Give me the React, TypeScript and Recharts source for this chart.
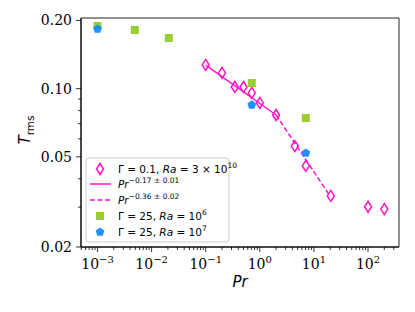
import React from "react";
import {
  ScatterChart,
  Scatter,
  XAxis,
  YAxis,
  ReferenceArea,
} from "recharts";

// Γ = 0.1, Ra = 3e10 (open diamonds)
const prLow = [0.1, 0.2, 0.345, 0.5, 0.71, 1, 2, 4.44, 7.08, 20.5, 100, 200];
const tLow = [0.1272, 0.1173, 0.1017, 0.1017, 0.0957, 0.0865, 0.0765, 0.0558, 0.0456, 0.0336, 0.0301, 0.0294];

// Γ = 25, Ra = 1e6 (squares)
const prSq = [0.001, 0.0049, 0.0208, 0.71, 7.08];
const tSq = [0.189, 0.1815, 0.1674, 0.1059, 0.0742];

// Γ = 25, Ra = 1e7 (pentagons)
const prPent = [0.001, 0.71, 7.08];
const tPent = [0.1834, 0.0847, 0.052];

// fit lines, end points
const fitSolidPr = [0.1, 2];
const fitSolidT = [0.127, 0.0765];
const fitDashPr = [2, 20];
const fitDashT = [0.0765, 0.0335];

const xMajor = [1e-3, 1e-2, 1e-1, 1, 10, 100];
const xMajorExp = ["−3", "−2", "−1", "0", "1", "2"];
const yMajor = [0.02, 0.05, 0.1, 0.2];
const yMajorLabels = ["0.02", "0.05", "0.10", "0.20"];
const yMinor = [0.03, 0.04, 0.06, 0.07, 0.08, 0.09];

const X_DOMAIN: [number, number] = [4.95e-4, 374];
const Y_DOMAIN: [number, number] = [0.02, 0.205];

const MAGENTA = "#ff14c8";
const GREEN = "#9acd32";
const BLUE = "#1e90ff";

const zip = (xs: number[], ys: number[]) => xs.map((x, i) => ({ x, y: ys[i] }));

const xMinor: number[] = [];
for (let e = -4; e <= 2; e++) {
  for (let k = 2; k <= 9; k++) {
    const v = k * Math.pow(10, e);
    if (v >= X_DOMAIN[0] && v <= X_DOMAIN[1]) xMinor.push(v);
  }
}
const xTicks = [...xMajor, ...xMinor].sort((a, b) => a - b);
const yTicks = [...yMajor, ...yMinor].sort((a, b) => a - b);

const near = (a: number, b: number) => Math.abs(a - b) / b < 1e-6;

const XTick = (props: any) => {
  const { x, y, payload } = props;
  const i = xMajor.findIndex((m) => near(payload.value, m));
  const major = i >= 0;
  return (
    <g>
      <line x1={x} x2={x} y1={y} y2={y + (major ? 5 : 3)} stroke="#000" strokeWidth={0.8} />
      {major && (
        <text x={x} y={y + 22} textAnchor="middle" fontFamily="DejaVu Serif" fontSize={14} fill="#000">
          10
          <tspan dy={-6} fontSize={10}>
            {xMajorExp[i]}
          </tspan>
        </text>
      )}
    </g>
  );
};

const YTick = (props: any) => {
  const { x, y, payload } = props;
  const i = yMajor.findIndex((m) => near(payload.value, m));
  const major = i >= 0;
  return (
    <g>
      <line x1={x - (major ? 5 : 3)} x2={x} y1={y} y2={y} stroke="#000" strokeWidth={0.8} />
      {major && (
        <text x={x - 9} y={y + 5} textAnchor="end" fontFamily="DejaVu Serif" fontSize={14} fill="#000">
          {yMajorLabels[i]}
        </text>
      )}
    </g>
  );
};

const Diamond = (props: any) => {
  const { cx, cy } = props;
  return (
    <path
      d={`M${cx},${cy - 5.5} L${cx + 3.5},${cy} L${cx},${cy + 5.5} L${cx - 3.5},${cy} Z`}
      fill="none"
      stroke={MAGENTA}
      strokeWidth={1.5}
    />
  );
};

const Square = (props: any) => {
  const { cx, cy } = props;
  return <rect x={cx - 4} y={cy - 4} width={8} height={8} fill={GREEN} />;
};

const pentagonPath = (cx: number, cy: number, r: number) => {
  const pts = [];
  for (let k = 0; k < 5; k++) {
    const a = -Math.PI / 2 + (k * 2 * Math.PI) / 5;
    pts.push(`${cx + r * Math.cos(a)},${cy + r * Math.sin(a)}`);
  }
  return "M" + pts.join(" L") + " Z";
};

const Pentagon = (props: any) => {
  const { cx, cy } = props;
  return <path d={pentagonPath(cx, cy, 4.6)} fill={BLUE} />;
};

const NoDot = () => <g />;

const Legend = () => {
  const tx = 110;
  const fs = 10.5;
  const font = "DejaVu Sans";
  return (
    <g fontFamily={font} fontSize={fs} fill="#000">
      <rect x={78} y={150} width={143} height={84} rx={3} fill="#fff" fillOpacity={0.8} stroke="#ccc" strokeWidth={1} />
      <Diamond cx={92} cy={161} />
      <text x={tx} y={165}>
        Γ = 0.1, <tspan fontStyle="italic">Ra</tspan> = 3 × 10
        <tspan dy={-5} fontSize={7.5}>10</tspan>
      </text>
      <line x1={82} x2={103} y1={176} y2={176} stroke={MAGENTA} strokeWidth={1.5} />
      <text x={tx} y={180}>
        <tspan fontStyle="italic">Pr</tspan>
        <tspan dy={-5} fontSize={7.5}>−0.17 ± 0.01</tspan>
      </text>
      <line x1={82} x2={103} y1={192} y2={192} stroke={MAGENTA} strokeWidth={1.5} strokeDasharray="5 2.5" />
      <text x={tx} y={196}>
        <tspan fontStyle="italic">Pr</tspan>
        <tspan dy={-5} fontSize={7.5}>−0.36 ± 0.02</tspan>
      </text>
      <Square cx={92} cy={208} />
      <text x={tx} y={212}>
        Γ = 25, <tspan fontStyle="italic">Ra</tspan> = 10
        <tspan dy={-5} fontSize={7.5}>6</tspan>
      </text>
      <Pentagon cx={92} cy={224} />
      <text x={tx} y={228}>
        Γ = 25, <tspan fontStyle="italic">Ra</tspan> = 10
        <tspan dy={-5} fontSize={7.5}>7</tspan>
      </text>
    </g>
  );
};

export default function App() {
  return (
    <div style={{ position: "relative", width: 407, height: 304 }}>
      <ScatterChart width={407} height={304} margin={{ top: 10, right: 16, bottom: 0, left: 0 }}>
        <XAxis
          type="number"
          dataKey="x"
          scale="log"
          domain={X_DOMAIN}
          allowDataOverflow
          ticks={xTicks}
          interval={0}
          tick={<XTick />}
          tickLine={false}
          tickSize={0}
          tickMargin={0}
          height={65}
          axisLine={{ stroke: "#000", strokeWidth: 1 }}
        />
        <YAxis
          type="number"
          dataKey="y"
          scale="log"
          domain={Y_DOMAIN}
          allowDataOverflow
          ticks={yTicks}
          interval={0}
          tick={<YTick />}
          tickLine={false}
          tickSize={0}
          tickMargin={0}
          width={73}
          axisLine={{ stroke: "#000", strokeWidth: 1 }}
        />
        <ReferenceArea
          x1={X_DOMAIN[0]}
          x2={X_DOMAIN[1]}
          y1={Y_DOMAIN[0]}
          y2={Y_DOMAIN[1]}
          fill="none"
          stroke="#222"
          strokeWidth={1}
          ifOverflow="visible"
        />
        <Scatter data={zip(prLow, tLow)} shape={<Diamond />} isAnimationActive={false} />
        <Scatter
          data={zip(fitSolidPr, fitSolidT)}
          line={{ stroke: MAGENTA, strokeWidth: 1.5 }}
          shape={<NoDot />}
          isAnimationActive={false}
        />
        <Scatter
          data={zip(fitDashPr, fitDashT)}
          line={{ stroke: MAGENTA, strokeWidth: 1.5, strokeDasharray: "5 2.5" }}
          shape={<NoDot />}
          isAnimationActive={false}
        />
        <Scatter data={zip(prSq, tSq)} shape={<Square />} isAnimationActive={false} />
        <Scatter data={zip(prPent, tPent)} shape={<Pentagon />} isAnimationActive={false} />
      </ScatterChart>
      <svg
        width={407}
        height={304}
        style={{ position: "absolute", left: 0, top: 0, pointerEvents: "none" }}
      >
        <Legend />
        <text
          transform="translate(22,122) rotate(-90)"
          textAnchor="middle"
          fontFamily="DejaVu Sans"
          fontSize={15}
        >
          <tspan fontStyle="italic">T</tspan>
          <tspan dy={4} fontSize={10.5}>rms</tspan>
        </text>
        <text x={232} y={279} textAnchor="middle" fontFamily="DejaVu Sans" fontSize={15} fontStyle="italic">
          Pr
        </text>
      </svg>
    </div>
  );
}
